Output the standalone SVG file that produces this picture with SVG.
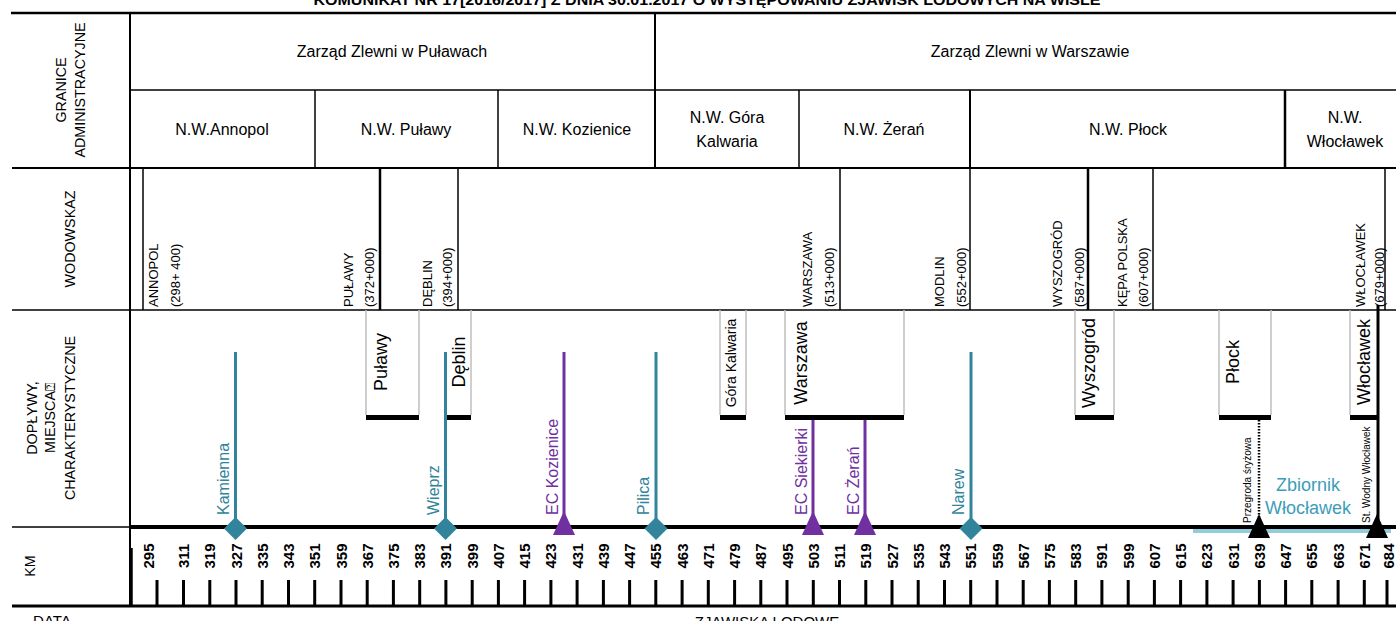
<svg xmlns="http://www.w3.org/2000/svg" width="1396" height="621" viewBox="0 0 1396 621">
<style>
text{font-family:"Liberation Sans","Open Sans",sans-serif;fill:#000}
.hdr{font-size:14.3px}
.nw{font-size:16px;text-anchor:middle}
.g{font-size:13px}
.box{font-size:18px;text-anchor:middle}
.km{font-size:15px;text-anchor:middle;font-weight:bold}
.tl{font-size:16px}
.teal{fill:#31849B}
.purp{fill:#7030A0}
.zb{fill:#3C9DB8;font-size:18px;text-anchor:middle}
.sm{font-size:10px}
.ln{stroke:#000;fill:none}
.gb{stroke:#BFBFBF;stroke-width:1.5;fill:none}
.bar{fill:#000}
.dia{fill:#31849B}
.tri{fill:#7030A0}
.btri{fill:#000}
</style>
<defs>
<polygon id="diam" points="0,-11.5 11.5,0 0,11.5 -11.5,0"/>
<polygon id="trig" points="0,-24 11,0 -11,0"/>
</defs>

<g id="title">
<text x="707" y="5" font-size="14" font-weight="bold" text-anchor="middle" textLength="787" lengthAdjust="spacingAndGlyphs">KOMUNIKAT NR 17[2016/2017] Z DNIA 30.01.2017 O WYSTĘPOWANIU ZJAWISK LODOWYCH NA WIŚLE</text>
</g>

<g id="grid" class="ln">
<line x1="11" y1="13" x2="1396" y2="13" stroke-width="2.5"/>
<line x1="130" y1="90" x2="1396" y2="90" stroke-width="1.5"/>
<line x1="12" y1="168" x2="1396" y2="168" stroke-width="2"/>
<line x1="12" y1="310" x2="1396" y2="310" stroke-width="1.5"/>
<line x1="12" y1="527" x2="130" y2="527" stroke-width="1.5"/>
<line x1="12" y1="606" x2="1396" y2="606" stroke-width="3"/>
<line x1="130" y1="13" x2="130" y2="606" stroke-width="2"/>
<line x1="131" y1="548" x2="131" y2="606" stroke-width="3.5"/>
<line x1="655" y1="13" x2="655" y2="168" stroke-width="2"/>
<line x1="315" y1="90" x2="315" y2="168" stroke-width="1.5"/>
<line x1="498" y1="90" x2="498" y2="168" stroke-width="1.5"/>
<line x1="799" y1="90" x2="799" y2="168" stroke-width="1.5"/>
<line x1="970" y1="90" x2="970" y2="168" stroke-width="2"/>
<line x1="1285" y1="90" x2="1285" y2="168" stroke-width="2.5"/>
<line x1="143" y1="168" x2="143" y2="310" stroke-width="1.5"/>
<line x1="380" y1="168" x2="380" y2="310" stroke-width="2.5"/>
<line x1="458" y1="168" x2="458" y2="310" stroke-width="1.5"/>
<line x1="840" y1="168" x2="840" y2="310" stroke-width="1.5"/>
<line x1="970" y1="168" x2="970" y2="310" stroke-width="1.5"/>
<line x1="1088" y1="168" x2="1088" y2="310" stroke-width="2.5"/>
<line x1="1153" y1="168" x2="1153" y2="310" stroke-width="1.5"/>
<line x1="1385" y1="168" x2="1385" y2="310" stroke-width="1.5"/>
</g>

<g id="row-labels" class="hdr">
<text transform="translate(66,90) rotate(-90)" text-anchor="middle">GRANICE</text>
<text transform="translate(85,90) rotate(-90)" text-anchor="middle">ADMINISTRACYJNE</text>
<text transform="translate(75,239) rotate(-90)" text-anchor="middle">WODOWSKAZ</text>
<text transform="translate(37,418) rotate(-90)" text-anchor="middle">DOPŁYWY,</text>
<text transform="translate(55,418) rotate(-90)" text-anchor="middle">MIEJSCA⍰</text>
<text transform="translate(75,418) rotate(-90)" text-anchor="middle">CHARAKTERYSTYCZNE</text>
<text transform="translate(35,566) rotate(-90)" text-anchor="middle">KM</text>
<text x="52" y="626" text-anchor="middle" font-size="15">DATA</text>
<text x="767" y="627" text-anchor="middle" font-size="15">ZJAWISKA LODOWE</text>
</g>

<g id="zarzad">
<text class="nw" x="392" y="57">Zarząd Zlewni w Puławach</text>
<text class="nw" x="1030" y="57">Zarząd Zlewni w Warszawie</text>
</g>

<g id="nadzory">
<text class="nw" x="222" y="135">N.W.Annopol</text>
<text class="nw" x="406" y="135">N.W. Puławy</text>
<text class="nw" x="577" y="135">N.W. Kozienice</text>
<text class="nw" x="727" y="123">N.W. Góra</text>
<text class="nw" x="727" y="147">Kalwaria</text>
<text class="nw" x="884" y="135">N.W. Żerań</text>
<text class="nw" x="1128" y="135">N.W. Płock</text>
<text class="nw" x="1345" y="123">N.W.</text>
<text class="nw" x="1345" y="147">Włocławek</text>
</g>

<g id="wodowskazy" class="g">
<text transform="translate(157.7,307) rotate(-90)">ANNOPOL</text>
<text transform="translate(179.7,307) rotate(-90)">(298+ 400)</text>
<text transform="translate(352.7,307) rotate(-90)">PUŁAWY</text>
<text transform="translate(373.7,307) rotate(-90)">(372+000)</text>
<text transform="translate(431.7,307) rotate(-90)">DĘBLIN</text>
<text transform="translate(451.7,307) rotate(-90)">(394+000)</text>
<text transform="translate(811.7,307) rotate(-90)">WARSZAWA</text>
<text transform="translate(833.7,307) rotate(-90)">(513+000)</text>
<text transform="translate(943.7,307) rotate(-90)">MODLIN</text>
<text transform="translate(965.7,307) rotate(-90)">(552+000)</text>
<text transform="translate(1061.7,307) rotate(-90)">WYSZOGRÓD</text>
<text transform="translate(1083.7,307) rotate(-90)">(587+000)</text>
<text transform="translate(1126.7,307) rotate(-90)">KĘPA POLSKA</text>
<text transform="translate(1147.7,307) rotate(-90)">(607+000)</text>
<text transform="translate(1364.7,307) rotate(-90)">WŁOCŁAWEK</text>
<text transform="translate(1383.7,307) rotate(-90)">(679+000)</text>
</g>

<g id="connectors">
<rect x="1193" y="529" width="198" height="4" fill="#92CDDC"/>
<line class="ln" x1="130" y1="527" x2="1396" y2="527" stroke-width="4"/>
<g stroke="#31849B" stroke-width="3">
<line x1="235.5" y1="352" x2="235.5" y2="527"/>
<line x1="445.5" y1="352" x2="445.5" y2="527"/>
<line x1="656" y1="352" x2="656" y2="527"/>
<line x1="971" y1="352" x2="971" y2="527"/>
</g>
<g stroke="#7030A0" stroke-width="3">
<line x1="564" y1="352" x2="564" y2="520"/>
<line x1="813" y1="420" x2="813" y2="520"/>
<line x1="865" y1="420" x2="865" y2="520"/>
</g>
<line x1="1259" y1="420" x2="1259" y2="520" stroke="#000" stroke-width="2.5" stroke-dasharray="1.5,1.5"/>
<line x1="1378" y1="305" x2="1378" y2="520" stroke="#000" stroke-width="3"/>
</g>

<g id="places">
<g id="place-pulawy">
<path class="gb" d="M366,310V415M419,310V415"/>
<rect class="bar" x="366" y="415" width="53" height="5"/>
<text class="box" transform="translate(386.5,362) rotate(-90)">Puławy</text>
</g>
<g id="place-deblin">
<path class="gb" d="M471,310V415"/>
<rect class="bar" x="447" y="415" width="24" height="5"/>
<text class="box" transform="translate(464.5,362) rotate(-90)">Dęblin</text>
</g>
<g id="place-gora">
<path class="gb" d="M720,310V415M746,310V415"/>
<rect class="bar" x="720" y="415" width="26" height="5"/>
<text transform="translate(736,363) rotate(-90)" font-size="14" text-anchor="middle">Góra Kalwaria</text>
</g>
<g id="place-warszawa">
<path class="gb" d="M785,310V415M904,310V415"/>
<rect class="bar" x="785" y="415" width="119" height="5"/>
<text class="box" transform="translate(806.5,363) rotate(-90)">Warszawa</text>
</g>
<g id="place-wyszogrod">
<path class="gb" d="M1075,310V415M1114,310V415"/>
<rect class="bar" x="1075" y="415" width="39" height="5"/>
<text class="box" transform="translate(1094.5,363) rotate(-90)">Wyszogród</text>
</g>
<g id="place-plock">
<path class="gb" d="M1219,310V415M1271,310V415"/>
<rect class="bar" x="1219" y="415" width="52" height="5"/>
<text class="box" transform="translate(1238.5,362) rotate(-90)">Płock</text>
</g>
<g id="place-wloclawek">
<path class="gb" d="M1350,310V415"/>
<rect class="bar" x="1350" y="415" width="29" height="5"/>
<text class="box" transform="translate(1369.5,362) rotate(-90)">Włocławek</text>
</g>
</g>

<g id="tributaries">
<g id="kamienna"><use href="#diam" x="235.5" y="528.5" class="dia"/><text class="tl teal" transform="translate(229,515) rotate(-90)">Kamienna</text></g>
<g id="wieprz"><use href="#diam" x="445.5" y="528.5" class="dia"/><text class="tl teal" transform="translate(439,515) rotate(-90)">Wieprz</text></g>
<g id="pilica"><use href="#diam" x="656" y="528.5" class="dia"/><text class="tl teal" transform="translate(649,515) rotate(-90)">Pilica</text></g>
<g id="narew"><use href="#diam" x="971" y="528.5" class="dia"/><text class="tl teal" transform="translate(964,515) rotate(-90)">Narew</text></g>
<g id="ec-kozienice"><use href="#trig" x="564" y="535" class="tri"/><text class="tl purp" transform="translate(558,515) rotate(-90)">EC Kozienice</text></g>
<g id="ec-siekierki"><use href="#trig" x="813" y="535" class="tri"/><text class="tl purp" transform="translate(807,515) rotate(-90)">EC Siekierki</text></g>
<g id="ec-zeran"><use href="#trig" x="865" y="535" class="tri"/><text class="tl purp" transform="translate(859,515) rotate(-90)">EC Żerań</text></g>
<g id="przegroda"><use href="#trig" x="1259" y="538" class="btri"/><text class="sm" transform="translate(1250.5,523) rotate(-90)">Przegroda śryżowa</text></g>
<g id="stopien"><use href="#trig" x="1377" y="538" class="btri"/><text class="sm" transform="translate(1369.5,523) rotate(-90)">St. Wodny Włocławek</text></g>
<g id="zbiornik">
<text class="zb" x="1308" y="491">Zbiornik</text>
<text class="zb" x="1308" y="514">Włocławek</text>
</g>
</g>

<g id="km-ticks" stroke="#000" stroke-width="3">
<path d="M157,580V606M183.5,580V606M209.8,580V606M236,580V606M262.2,580V606M288.5,580V606M314.7,580V606M341,580V606M367.2,580V606M393.4,580V606M419.7,580V606M445.9,580V606M472.2,580V606M498.4,580V606M524.6,580V606M550.9,580V606M577.1,580V606M603.4,580V606M629.6,580V606M655.8,580V606M682.1,580V606M708.3,580V606M734.6,580V606M760.8,580V606M787,580V606M813.3,580V606M839.5,580V606M865.8,580V606M892,580V606M918.2,580V606M944.5,580V606M970.7,580V606M997,580V606M1023.2,580V606M1049.4,580V606M1075.7,580V606M1101.9,580V606M1128.2,580V606M1154.4,580V606M1180.6,580V606M1206.9,580V606M1233.1,580V606M1259.4,580V606M1285.6,580V606M1311.8,580V606M1338.1,580V606M1364.3,580V606M1387,580V606"/>
</g>

<g id="km-labels" class="km">
<text transform="translate(153.5,556) rotate(-90)">295</text>
<text transform="translate(189,556) rotate(-90)">311</text>
<text transform="translate(215.3,556) rotate(-90)">319</text>
<text transform="translate(241.5,556) rotate(-90)">327</text>
<text transform="translate(267.7,556) rotate(-90)">335</text>
<text transform="translate(294,556) rotate(-90)">343</text>
<text transform="translate(320.2,556) rotate(-90)">351</text>
<text transform="translate(346.5,556) rotate(-90)">359</text>
<text transform="translate(372.7,556) rotate(-90)">367</text>
<text transform="translate(398.9,556) rotate(-90)">375</text>
<text transform="translate(425.2,556) rotate(-90)">383</text>
<text transform="translate(451.4,556) rotate(-90)">391</text>
<text transform="translate(477.7,556) rotate(-90)">399</text>
<text transform="translate(503.9,556) rotate(-90)">407</text>
<text transform="translate(530.1,556) rotate(-90)">415</text>
<text transform="translate(556.4,556) rotate(-90)">423</text>
<text transform="translate(582.6,556) rotate(-90)">431</text>
<text transform="translate(608.9,556) rotate(-90)">439</text>
<text transform="translate(635.1,556) rotate(-90)">447</text>
<text transform="translate(661.3,556) rotate(-90)">455</text>
<text transform="translate(687.6,556) rotate(-90)">463</text>
<text transform="translate(713.8,556) rotate(-90)">471</text>
<text transform="translate(740.1,556) rotate(-90)">479</text>
<text transform="translate(766.3,556) rotate(-90)">487</text>
<text transform="translate(792.5,556) rotate(-90)">495</text>
<text transform="translate(818.8,556) rotate(-90)">503</text>
<text transform="translate(845,556) rotate(-90)">511</text>
<text transform="translate(871.3,556) rotate(-90)">519</text>
<text transform="translate(897.5,556) rotate(-90)">527</text>
<text transform="translate(923.7,556) rotate(-90)">535</text>
<text transform="translate(950,556) rotate(-90)">543</text>
<text transform="translate(976.2,556) rotate(-90)">551</text>
<text transform="translate(1002.5,556) rotate(-90)">559</text>
<text transform="translate(1028.7,556) rotate(-90)">567</text>
<text transform="translate(1054.9,556) rotate(-90)">575</text>
<text transform="translate(1081.2,556) rotate(-90)">583</text>
<text transform="translate(1107.4,556) rotate(-90)">591</text>
<text transform="translate(1133.7,556) rotate(-90)">599</text>
<text transform="translate(1159.9,556) rotate(-90)">607</text>
<text transform="translate(1186.1,556) rotate(-90)">615</text>
<text transform="translate(1212.4,556) rotate(-90)">623</text>
<text transform="translate(1238.6,556) rotate(-90)">631</text>
<text transform="translate(1264.9,556) rotate(-90)">639</text>
<text transform="translate(1291.1,556) rotate(-90)">647</text>
<text transform="translate(1317.3,556) rotate(-90)">655</text>
<text transform="translate(1343.6,556) rotate(-90)">663</text>
<text transform="translate(1369.8,556) rotate(-90)">671</text>
<text transform="translate(1393.5,556) rotate(-90)">684</text>
</g>
</svg>
